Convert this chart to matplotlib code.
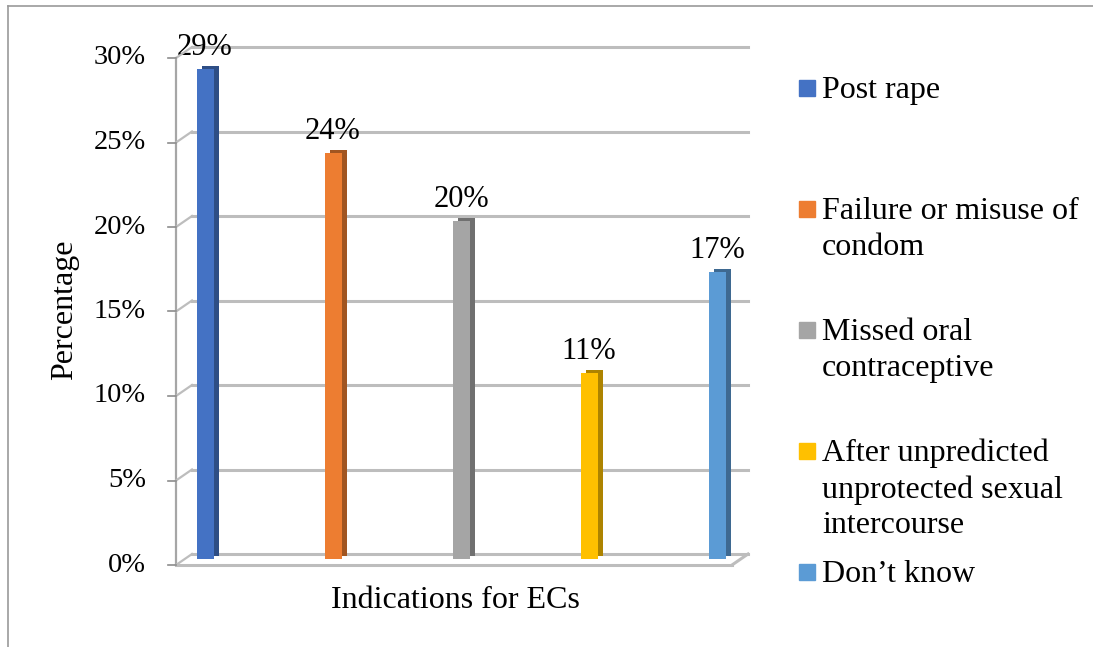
import matplotlib.pyplot as plt
import matplotlib.transforms as mtransforms
from matplotlib.colors import to_rgb
from matplotlib.lines import Line2D
from matplotlib.patches import Rectangle
import numpy as np

plt.rcParams['font.family'] = ['Liberation Serif', 'DejaVu Serif']

categories = ['Post rape', 'Failure or misuse of\ncondom', 'Missed oral\ncontraceptive',
              'After unpredicted\nunprotected sexual\nintercourse', 'Don\u2019t know']
values = [29, 24, 20, 11, 17]
colors = ['#4472C4', '#ED7D31', '#A5A5A5', '#FFC000', '#5B9BD5']
yticks = [0, 5, 10, 15, 20, 25, 30]

W, H = 1093, 647
fig = plt.figure(figsize=(W / 100, H / 100), dpi=100)

# front plane of the plot area, in pixels
left, right, bottom, top = 176, 732, H - 565, H - 58
ax = fig.add_axes([left / W, bottom / H, (right - left) / W, (top - bottom) / H])
x0 = -(197 - left) / 128
x1 = 4 + (right - 709) / 128
ax.set_xlim(x0, x1)
ax.set_ylim(0, 30)
ax.axis('off')


def shifted(dx, dy):
    return ax.transData + mtransforms.ScaledTranslation(dx / 100, dy / 100, fig.dpi_scale_trans)


def fig_line(p, q, **kw):
    fig.add_artist(Line2D([p[0] / W, q[0] / W], [p[1] / H, q[1] / H],
                          transform=fig.transFigure, **kw))


back = shifted(16, 11)
mid = shifted(8, 6)
grid_c = '#bdbdbd'

for t in yticks:
    # back wall gridline
    ax.plot([x0, x1], [t, t], color=grid_c, lw=2.2, transform=back, clip_on=False, zorder=1)
    # side wall oblique and tick mark
    p0 = ax.transData.transform((x0, t))
    p1 = back.transform((x0, t))
    fig_line(p0, p1, color=grid_c, lw=1.6)
    fig_line((p0[0] - 8, p0[1]), p0, color='#8c8c8c', lw=1.2)
    ax.text(x0, t, f'{t}%', transform=shifted(-30, 0), ha='right', va='center',
            fontsize=20.5, clip_on=False)

# front axis line and floor
ax.plot([x0, x0], [0, 30], color='#a6a6a6', lw=1.6, clip_on=False, zorder=2)
ax.plot([x0, x1], [0, 0], color=grid_c, lw=2.2, clip_on=False, zorder=2)
fig_line(ax.transData.transform((x1, 0)), back.transform((x1, 0)), color=grid_c, lw=2.2)

# bars: darker depth face behind, front face on top
xs = np.arange(len(values))
bw = 17 / 128
for x, v, c in zip(xs, values, colors):
    dark = tuple(np.array(to_rgb(c)) * 0.68)
    ax.bar(x, v, width=bw, color=dark, transform=shifted(13, 9), zorder=3, clip_on=False)
    ax.bar(x, v, width=bw, color=c, transform=mid, zorder=4, clip_on=False)
    ax.text(x, v, f'{v}%', transform=shifted(8, 13), ha='center', va='bottom',
            fontsize=22, zorder=5, clip_on=False)

fig.text(65 / W, 1 - 310 / H, 'Percentage', rotation=90, ha='center', va='center', fontsize=23)
fig.text(455 / W, 1 - 600 / H, 'Indications for ECs', ha='center', va='center', fontsize=23)

# legend on the right, one entry every 121 px
for i, (lab, c) in enumerate(zip(categories, colors)):
    y = 88 + 121 * i
    fig.add_artist(Rectangle((799 / W, 1 - (y + 8) / H), 16 / W, 16 / H,
                             color=c, transform=fig.transFigure))
    fig.text(822 / W, 1 - (y - 12) / H, lab, ha='left', va='top', fontsize=23,
             linespacing=1.3)

# outer frame (top and left edges)
fig_line((8, H - 6), (W, H - 6), color='#9a9a9a', lw=1.2)
fig_line((8, H - 6), (8, 0), color='#9a9a9a', lw=1.2)

fig.savefig('out.png', dpi=100)
